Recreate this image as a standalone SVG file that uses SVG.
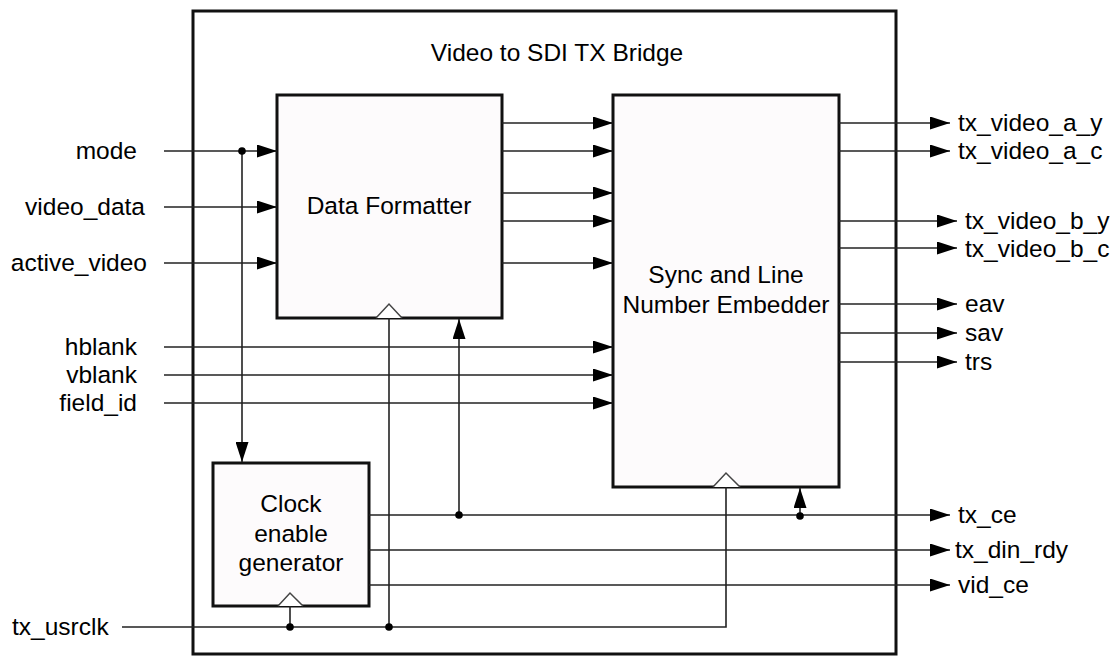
<svg xmlns="http://www.w3.org/2000/svg" width="1117" height="656" viewBox="0 0 1117 656">
<style>
text{font-family:"Liberation Sans",Arial,sans-serif;font-size:24.5px;fill:#000}
.blk{fill:#fdfbfc;stroke:#111;stroke-width:3}
.w{stroke:#222;stroke-width:1.6;fill:none}
.a{marker-end:url(#arr)}
.clk{fill:#fff;stroke:#444;stroke-width:1.5}
.dot{fill:#000}
</style>
<defs>
<marker id="arr" markerUnits="userSpaceOnUse" markerWidth="20" markerHeight="13" refX="20" refY="6.5" orient="auto" viewBox="0 0 20 13">
<path d="M0,0 L20,6.5 L0,13 z" fill="#000"/>
</marker>
</defs>
<rect width="1117" height="656" fill="#fff"/>
<g id="bridge">
<rect x="193" y="11" width="703" height="643" fill="none" stroke="#111" stroke-width="3"/>
<text x="557" y="61" text-anchor="middle">Video to SDI TX Bridge</text>
</g>
<g id="data_formatter">
<rect class="blk" x="277" y="95" width="225" height="223"/>
<text x="389" y="214" text-anchor="middle">Data Formatter</text>
<path class="clk" d="M376,318 L389,304 L402,318"/>
</g>
<g id="sync_embedder">
<rect class="blk" x="613" y="95" width="226" height="392"/>
<text x="726" y="283" text-anchor="middle">Sync and Line</text>
<text x="726" y="313" text-anchor="middle">Number Embedder</text>
<path class="clk" d="M713,487 L726,473 L740,487"/>
</g>
<g id="clock_enable">
<rect class="blk" x="213" y="463" width="156" height="143"/>
<text x="291" y="512" text-anchor="middle">Clock</text>
<text x="291" y="542" text-anchor="middle">enable</text>
<text x="291" y="571" text-anchor="middle">generator</text>
<path class="clk" d="M278,606 L290,593 L303,606"/>
</g>
<g id="labels">
<text x="137" y="159" text-anchor="end">mode</text>
<text x="145" y="215" text-anchor="end">video_data</text>
<text x="147" y="271" text-anchor="end">active_video</text>
<text x="137" y="355" text-anchor="end">hblank</text>
<text x="137" y="383" text-anchor="end">vblank</text>
<text x="137" y="411" text-anchor="end">field_id</text>
<text x="12" y="635">tx_usrclk</text>
<text x="958" y="131">tx_video_a_y</text>
<text x="958" y="159">tx_video_a_c</text>
<text x="965" y="229">tx_video_b_y</text>
<text x="965" y="257">tx_video_b_c</text>
<text x="965" y="312">eav</text>
<text x="965" y="341">sav</text>
<text x="965" y="370">trs</text>
<text x="958" y="523">tx_ce</text>
<text x="955" y="558">tx_din_rdy</text>
<text x="958" y="593">vid_ce</text>
</g>
<g id="connectors">
<line class="w a" x1="164" y1="151" x2="277" y2="151"/>
<line class="w a" x1="164" y1="207" x2="277" y2="207"/>
<line class="w a" x1="164" y1="263" x2="277" y2="263"/>
<line class="w a" x1="242" y1="151" x2="242" y2="462"/>
<line class="w a" x1="164" y1="347" x2="613" y2="347"/>
<line class="w a" x1="164" y1="375" x2="613" y2="375"/>
<line class="w a" x1="164" y1="403" x2="613" y2="403"/>
<line class="w a" x1="502" y1="123" x2="613" y2="123"/>
<line class="w a" x1="502" y1="151" x2="613" y2="151"/>
<line class="w a" x1="502" y1="193" x2="613" y2="193"/>
<line class="w a" x1="502" y1="221" x2="613" y2="221"/>
<line class="w a" x1="502" y1="263" x2="613" y2="263"/>
<line class="w a" x1="839" y1="123" x2="950" y2="123"/>
<line class="w a" x1="839" y1="151" x2="950" y2="151"/>
<line class="w a" x1="839" y1="221" x2="957" y2="221"/>
<line class="w a" x1="839" y1="248" x2="957" y2="248"/>
<line class="w a" x1="839" y1="304" x2="957" y2="304"/>
<line class="w a" x1="839" y1="333" x2="957" y2="333"/>
<line class="w a" x1="839" y1="362" x2="957" y2="362"/>
<line class="w a" x1="369" y1="515" x2="950" y2="515"/>
<line class="w a" x1="369" y1="550" x2="950" y2="550"/>
<line class="w a" x1="369" y1="585" x2="950" y2="585"/>
<line class="w a" x1="459" y1="515" x2="459" y2="319"/>
<line class="w a" x1="800" y1="515" x2="800" y2="488"/>
<line class="w" x1="389" y1="318" x2="389" y2="627"/>
<line class="w" x1="290" y1="606" x2="290" y2="627"/>
<polyline class="w" points="122,627 726,627 726,487"/>
<circle class="dot" cx="242" cy="151" r="3.8"/>
<circle class="dot" cx="459" cy="515" r="3.8"/>
<circle class="dot" cx="800" cy="516" r="3.8"/>
<circle class="dot" cx="290" cy="627" r="3.8"/>
<circle class="dot" cx="389" cy="627" r="3.8"/>
</g>
</svg>
